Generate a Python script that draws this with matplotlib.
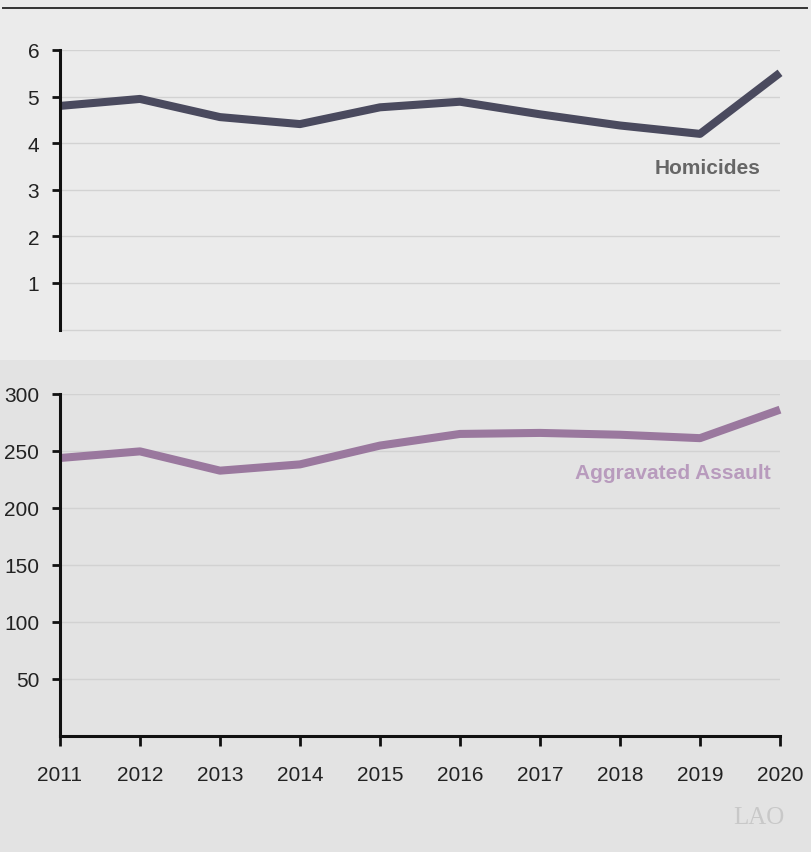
import matplotlib
matplotlib.use("Agg")
import matplotlib.pyplot as plt
from matplotlib.patches import Rectangle
from matplotlib.lines import Line2D

years = [2011, 2012, 2013, 2014, 2015, 2016, 2017, 2018, 2019, 2020]
homicides = [4.80, 4.95, 4.56, 4.41, 4.77, 4.89, 4.62, 4.38, 4.20, 5.51]
assaults = [243.6, 249.4, 232.5, 238.0, 254.5, 264.7, 265.6, 264.0, 261.0, 286.0]
hom_ticks = [1, 2, 3, 4, 5, 6]
ass_ticks = [50, 100, 150, 200, 250, 300]

plt.rcParams['font.family'] = ['Liberation Sans', 'DejaVu Sans']

W, H = 812, 853
fig = plt.figure(figsize=(W / 100, H / 100), dpi=100)

# backgrounds
fig.patches.append(Rectangle((0, 1 - 361 / H), 1, 361 / H, transform=fig.transFigure,
                             facecolor='#ebebeb', edgecolor='none', zorder=-10))
fig.patches.append(Rectangle((0, 0), 1, 1 - 361 / H, transform=fig.transFigure,
                             facecolor='#e3e3e3', edgecolor='none', zorder=-10))
fig.lines.append(Line2D([3 / W, 807 / W], [1 - 9 / H, 1 - 9 / H], transform=fig.transFigure,
                        color='#333333', linewidth=1.4))

left = 60 / W
width = 720 / W

def style(ax):
    ax.set_facecolor('none')
    for s in ['top', 'right']:
        ax.spines[s].set_visible(False)
    ax.spines['left'].set_linewidth(2.2)
    ax.spines['left'].set_color('#111111')
    ax.tick_params(axis='y', length=6, width=2, color='#111111', pad=9,
                   labelsize=15, labelcolor='#222222')
    ax.grid(axis='y', color='#d2d2d2', linewidth=1.0)
    ax.set_axisbelow(True)
    ax.set_xlim(2011, 2020)

# top panel
ax1 = fig.add_axes([left, 1 - 330.6 / H, width, 279.6 / H])
style(ax1)
ax1.plot(years, homicides, color='#4a4a5e', linewidth=5.8, solid_capstyle='butt', clip_on=False)
ax1.set_ylim(0, 6)
ax1.set_yticks(hom_ticks)
ax1.set_yticklabels([str(t) for t in hom_ticks])
ax1.axhline(0, color='#d2d2d2', linewidth=1.0, clip_on=False, zorder=0.5)
ax1.spines['bottom'].set_visible(False)
ax1.set_xticks([])
ax1.text(2019.75, 3.47, 'Homicides', ha='right', va='center', fontsize=15,
         fontweight='bold', color='#666666')

# bottom panel
ax2 = fig.add_axes([left, 1 - 736.7 / H, width, 342 / H])
style(ax2)
ax2.plot(years, assaults, color='#9a789e', linewidth=5.8, solid_capstyle='butt', clip_on=False)
ax2.set_ylim(0, 300)
ax2.set_yticks(ass_ticks)
ax2.set_yticklabels([str(t) for t in ass_ticks])
ax2.spines['bottom'].set_linewidth(2.2)
ax2.spines['bottom'].set_color('#111111')
ax2.set_xticks(years)
ax2.set_xticklabels([str(y) for y in years])
ax2.tick_params(axis='x', length=7, width=2, color='#111111', pad=14,
                labelsize=15, labelcolor='#222222')
ax2.text(2019.89, 231.3, 'Aggravated Assault', ha='right', va='center', fontsize=15,
         fontweight='bold', color='#b89bbd')

fig.text(733 / W, 1 - 818 / H, 'LAO', ha='left', va='center', fontsize=18,
         family='Liberation Serif', color='#c8c8c8')

fig.savefig('out.png', dpi=100)
